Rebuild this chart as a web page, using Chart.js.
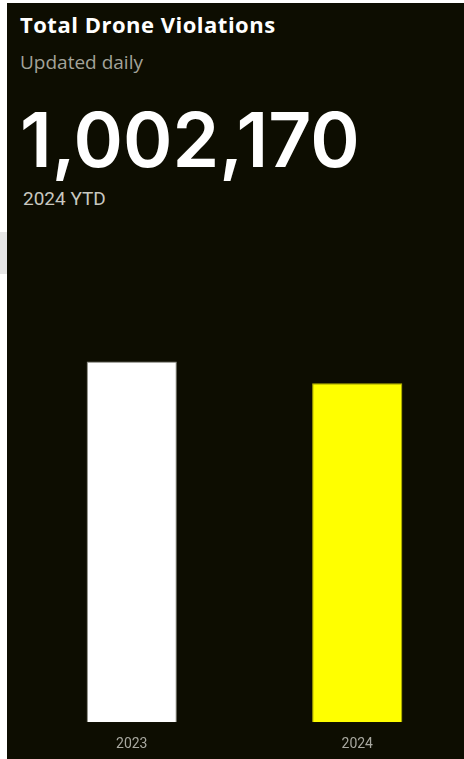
<!DOCTYPE html>
<html lang="en">

<head>
    <meta charset="UTF-8">
    <meta name="viewport" content="width=device-width, initial-scale=1.0">
    <title>Total Drone Violations</title>

    <script src="https://cdn.jsdelivr.net/npm/chart.js"></script>

    <style>
        html, body {
            margin: 0;
            padding: 0;
            background: #ffffff;
            overflow: hidden;
            width: 464px;
            height: 759px;
        }

        .painel {
            position: absolute;
            left: 7px;
            top: 3px;
            width: 480px;
            height: 780px;
            background: #0d0d01;
        }

        .sombra {
            position: absolute;
            left: 0;
            top: 232px;
            width: 7px;
            height: 42px;
            background: #e6e6e6;
        }

        .titulo {
            position: absolute;
            left: 20px;
            top: 9px;
            font-family: "Open Sans", sans-serif;
            font-weight: 700;
            font-size: 22px;
            letter-spacing: 0.5px;
            color: #ffffff;
            margin: 0;
            white-space: nowrap;
        }

        .subtitulo {
            position: absolute;
            left: 20px;
            top: 49px;
            font-family: "Open Sans", sans-serif;
            font-size: 19px;
            color: #a3a39a;
            margin: 0;
        }

        .total {
            position: absolute;
            left: 20px;
            top: 94px;
            font-family: Inter, sans-serif;
            font-weight: 600;
            font-size: 75px;
            letter-spacing: 0px;
            color: #ffffff;
            margin: 0;
        }

        .ytd {
            position: absolute;
            left: 23px;
            top: 187px;
            font-family: Roboto, sans-serif;
            font-size: 19px;
            color: #c8c8c0;
            margin: 0;
        }

        .grafico {
            position: absolute;
            left: 19px;
            top: 215px;
            width: 451px;
            height: 552px;
        }
    </style>
</head>

<body>
    <div class="sombra"></div>
    <div class="painel"></div>
    <p class="titulo">Total Drone Violations</p>
    <p class="subtitulo">Updated daily</p>
    <p class="total" id="total"></p>
    <p class="ytd">2024 YTD</p>
    <div class="grafico">
        <canvas id="graficoAnos"></canvas>
    </div>
</body>

</html>
<script>
    // anos e total de violações por ano
    const anos = ['2023', '2024'];
    const violacoes = [1067000, 1002170];
    const coresBarras = ['#ffffff', '#ffff00'];
    const coresBorda = ['#8a8a80', '#b8b800'];

    document.getElementById('total').innerHTML = violacoes[1].toLocaleString('en-US');

    const dados = {
        labels: anos,
        datasets: [{
            label: 'Violations',
            data: violacoes,
            backgroundColor: coresBarras,
            borderColor: coresBorda,
            borderWidth: 1,
            barPercentage: 0.4,
            categoryPercentage: 1
        }]
    };

    const config = {
        type: 'bar',
        data: dados,
        options: {
            responsive: true,
            maintainAspectRatio: false,
            animation: false,
            layout: { padding: 0 },
            scales: {
                x: {
                    grid: { display: false, drawTicks: false },
                    border: { display: false },
                    ticks: {
                        color: '#a8a8a0',
                        padding: 14,
                        font: { family: 'Roboto', size: 14 }
                    }
                },
                y: {
                    display: false,
                    min: 0,
                    max: 1500000
                }
            },
            plugins: {
                legend: { display: false },
                tooltip: { enabled: false }
            }
        }
    };

    new Chart(document.getElementById('graficoAnos'), config);
</script>
